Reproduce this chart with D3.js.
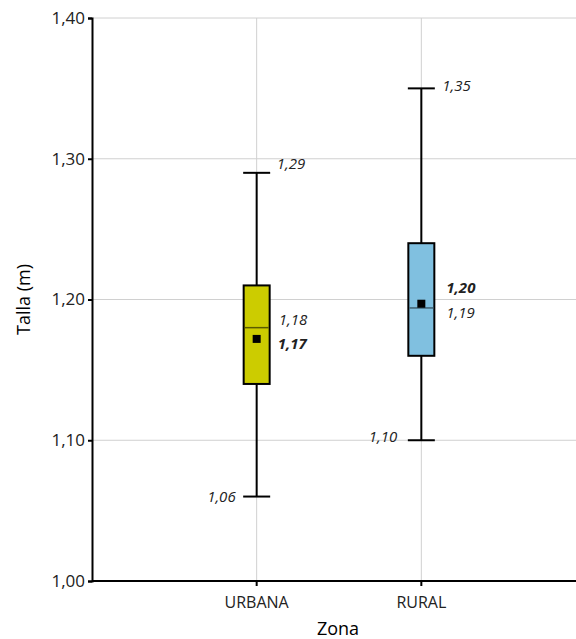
<!DOCTYPE html>
<html><head><meta charset="utf-8">
<script src="https://cdn.jsdelivr.net/npm/d3@7"></script>
<style>body{margin:0;background:#fff}svg{display:block}</style>
</head><body>
<script>
const categories = ["URBANA", "RURAL"];
const mins = [1.06, 1.10];
const q1s = [1.14, 1.16];
const medians = [1.18, 1.194];
const q3s = [1.21, 1.24];
const maxs = [1.29, 1.35];
const means = [1.172, 1.197];
const minLabels = ["1,06", "1,10"];
const maxLabels = ["1,29", "1,35"];
const medianLabels = ["1,18", "1,19"];
const meanLabels = ["1,17", "1,20"];
const yTicks = [1.0, 1.1, 1.2, 1.3, 1.4];
const fills = ["#cccc00", "#80c0e0"];
const medianColors = ["#5a5a00", "#3f5f70"];

const W = 576, H = 639;
const svg = d3.select("body").append("svg").attr("width", W).attr("height", H);
const font = "'Open Sans', sans-serif";

const y = d3.scaleLinear().domain([1.0, 1.4]).range([581, 18]);
const x = d3.scaleLinear().domain([0, 3]).range([92, 586]);
const xLeft = 92, xRight = 576;
const fmt = d => d3.format(".2f")(d).replace(".", ",");

// grid
svg.append("g").selectAll("line").data(yTicks.slice(1)).join("line")
  .attr("x1", xLeft).attr("x2", xRight).attr("y1", d => y(d)).attr("y2", d => y(d))
  .attr("stroke", "#d0d0d0").attr("stroke-width", 1);
svg.append("g").selectAll("line").data(categories).join("line")
  .attr("x1", (d, i) => x(i + 1)).attr("x2", (d, i) => x(i + 1))
  .attr("y1", y(1.4)).attr("y2", y(1.0))
  .attr("stroke", "#d0d0d0").attr("stroke-width", 1);

// y axis
const yAxis = svg.append("g").attr("transform", `translate(${xLeft},0)`)
  .call(d3.axisLeft(y).tickValues(yTicks).tickFormat(fmt).tickSize(4).tickPadding(3));
yAxis.select(".domain").attr("stroke", "#000").attr("stroke-width", 2);
yAxis.selectAll(".tick line").attr("stroke", "#000").attr("stroke-width", 2);
yAxis.selectAll(".tick text").attr("font-family", font).attr("font-size", 17).attr("fill", "#222");

// x axis
const xAxis = svg.append("g").attr("transform", `translate(0,${y(1.0)})`);
xAxis.append("line").attr("x1", xLeft).attr("x2", xRight).attr("stroke", "#000").attr("stroke-width", 2);
xAxis.selectAll(".xt").data(categories).join("line").attr("class", "xt")
  .attr("x1", (d, i) => x(i + 1)).attr("x2", (d, i) => x(i + 1)).attr("y1", 0).attr("y2", 5)
  .attr("stroke", "#000").attr("stroke-width", 2);
xAxis.selectAll("text").data(categories).join("text")
  .attr("x", (d, i) => x(i + 1)).attr("y", 27).attr("text-anchor", "middle")
  .attr("font-family", font).attr("font-size", 16).attr("fill", "#222").text(d => d);

// axis titles
svg.append("text").attr("transform", `translate(30,${(y(1.0) + y(1.4)) / 2}) rotate(-90)`)
  .attr("text-anchor", "middle").attr("font-family", font).attr("font-size", 18).attr("fill", "#000")
  .text("Talla (m)");
svg.append("text").attr("x", 338).attr("y", 635).attr("text-anchor", "middle")
  .attr("font-family", font).attr("font-size", 18).attr("fill", "#000").text("Zona");

// boxes
const bw = 26, cw = 27;
const g = svg.append("g");
categories.forEach((c, i) => {
  const cx = x(i + 1);
  g.append("line").attr("x1", cx).attr("x2", cx).attr("y1", y(maxs[i])).attr("y2", y(mins[i]))
    .attr("stroke", "#000").attr("stroke-width", 2);
  [maxs[i], mins[i]].forEach(v => g.append("line")
    .attr("x1", cx - cw / 2).attr("x2", cx + cw / 2).attr("y1", y(v)).attr("y2", y(v))
    .attr("stroke", "#000").attr("stroke-width", 2));
  g.append("rect").attr("x", cx - bw / 2).attr("width", bw)
    .attr("y", y(q3s[i])).attr("height", y(q1s[i]) - y(q3s[i]))
    .attr("fill", fills[i]).attr("stroke", "#000").attr("stroke-width", 2);
  g.append("line").attr("x1", cx - bw / 2 + 1).attr("x2", cx + bw / 2 - 1)
    .attr("y1", y(medians[i])).attr("y2", y(medians[i]))
    .attr("stroke", medianColors[i]).attr("stroke-width", 1.5);
  g.append("rect").attr("x", cx - 4).attr("y", y(means[i]) - 4).attr("width", 8).attr("height", 8)
    .attr("fill", "#000");
});

// value labels
const lab = (xx, yy, t, bold, anchor) => svg.append("text").attr("x", xx).attr("y", yy)
  .attr("text-anchor", anchor || "start").attr("font-family", font).attr("font-size", 15)
  .attr("font-style", "italic").attr("font-weight", bold ? "bold" : "normal").attr("fill", "#222").text(t);

// URBANA
lab(x(1) + 20, y(maxs[0]) - 4, maxLabels[0]);
lab(x(1) + 22, y(medians[0]) - 3, medianLabels[0]);
lab(x(1) + 21, y(means[0]) + 10, meanLabels[0], true);
lab(x(1) - 21, y(mins[0]) + 5, minLabels[0], false, "end");
// RURAL
lab(x(2) + 21, y(maxs[1]) + 3, maxLabels[1]);
lab(x(2) + 25, y(means[1]) - 11, meanLabels[1], true);
lab(x(2) + 25, y(medians[1]) + 10, medianLabels[1]);
lab(x(2) - 24, y(mins[1]) + 2, minLabels[1], false, "end");
</script>
</body></html>
